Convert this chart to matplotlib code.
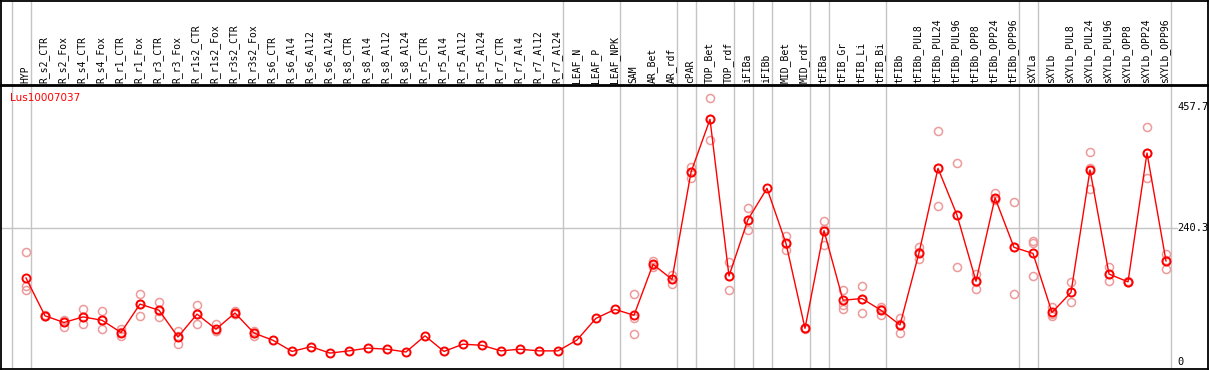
import numpy as np
import matplotlib
matplotlib.use("Agg")
import matplotlib.pyplot as plt

nan = np.nan

gene = "Lus10007037"

samples = ["HYP", "R_s2_CTR", "R_s2_Fox", "R_s4_CTR", "R_s4_Fox", "R_r1_CTR", "R_r1_Fox",
	"R_r3_CTR", "R_r3_Fox", "R_r1s2_CTR", "R_r1s2_Fox", "R_r3s2_CTR", "R_r3s2_Fox",
	"R_s6_CTR", "R_s6_Al4", "R_s6_Al12", "R_s6_Al24", "R_s8_CTR", "R_s8_Al4", "R_s8_Al12",
	"R_s8_Al24", "R_r5_CTR", "R_r5_Al4", "R_r5_Al12", "R_r5_Al24", "R_r7_CTR", "R_r7_Al4",
	"R_r7_Al12", "R_r7_Al24", "LEAF_N", "LEAF_P", "LEAF_NPK", "SAM", "AR_Bet", "AR_rdf",
	"cPAR", "TOP_Bet", "TOP_rdf", "iFIBa", "iFIBb", "MID_Bet", "MID_rdf", "tFIBa",
	"tFIB_Gr", "tFIB_Li", "tFIB_Bi", "tFIBb", "tFIBb_PUL8", "tFIBb_PUL24", "tFIBb_PUL96",
	"tFIBb_OPP8", "tFIBb_OPP24", "tFIBb_OPP96", "sXYLa", "sXYLb", "sXYLb_PUL8",
	"sXYLb_PUL24", "sXYLb_PUL96", "sXYLb_OPP8", "sXYLb_OPP24", "sXYLb_OPP96"]

# number of samples in each tissue block (grey separators)
group_sizes = [1, 28, 3, 3, 1, 2, 1, 1, 2, 1, 3, 7, 1, 7]

mean_expr = [151, 83, 71, 81, 75, 53, 104, 93, 45, 86, 59, 88, 52,
	39, 19, 27.5, 16, 20, 25, 23, 18, 47, 19, 32, 30, 20, 23, 20, 20,
	39.5, 78.5, 94.5, 84, 175.5, 148.5, 341, 436, 154.5, 256, 312, 213, 60.5,
	236, 111, 114, 93, 66.5, 196, 348, 264, 145, 295, 206, 195,
	89, 125, 345, 158, 144, 375.5, 181.5]

rep1 = [197, 84, 75, 96, 92, 59, 123, 108, 56, 102, 68, 92, 56,
	nan, nan, nan, nan, nan, nan, nan, nan, nan, nan, nan, nan, nan, nan, nan, nan,
	nan, nan, nan, 122, 181.5, 156, 351, 474, 180, 276, nan, 226, 61,
	253, 129, 136.5, 99, 78.5, 206, 414.5, 357, 159, 303, 287.5, 217,
	99, 144, 377, 170, 145, 422, 194]

rep2 = [137, 82, 63, 68, 59, 47, 83, 80, 33, 69, 56, 86, 47,
	nan, nan, nan, nan, nan, nan, nan, nan, nan, nan, nan, nan, nan, nan, nan, nan,
	nan, nan, nan, 50, 171, 140, 331, 398, 129, 237, nan, 202, 60,
	211, 96, 88.5, 84, 53, 184.5, 280, 171, 132, 291, 123, 155,
	82, 107, 310, 145, 143, 330, 166.5]

rep3 = [129, 83, 72, 80, 76, 54, 104, 92, 46, 86, 55, 86, 52,
	nan, nan, nan, nan, nan, nan, nan, nan, nan, nan, nan, nan, nan, nan, nan, nan,
	nan, nan, nan, 79, 174, 150, 341, 436, 155, 256, nan, 212, 60.5,
	239, 102, 114, 95, 68, 197, 349, 264, 144, 292, 207, 213,
	87, 125, 348, 159, 144, 375, 184]

yticks = [0, 240.3, 457.7]

W, H = 1209, 370
fig = plt.figure(figsize=(W / 100, H / 100), dpi=100)
fig.patch.set_facecolor("white")

# pixel layout of the original: category i sits at x = 26 + 19*i, value 0 at y = 362
x0, dx = 26.0, 19.0
y0, dy = 362.0, 0.5566
xlim = ((1 - x0) / dx, (1208 - x0) / dx)

ax = fig.add_axes([1 / W, 1 / H, 1207 / W, 283 / H])
hax = fig.add_axes([1 / W, 285 / H, 1207 / W, 84 / H], sharex=ax)

x = np.arange(len(samples))
ax.set_xlim(*xlim)
ax.set_ylim((y0 - 369) / dy, (y0 - 86) / dy)
hax.set_ylim(0, 1)

for a in (ax, hax):
	a.set_xticks([])
	a.set_yticks([])
	for s in a.spines.values():
		s.set_color("black")
		s.set_linewidth(1.3)

# block separators, through header and plot
ends = np.cumsum([0] + group_sizes) - 1
for e in ends:
	for a in (ax, hax):
		a.axvline(e + 0.24, color="#c4c4c4", lw=1, zorder=0)

# horizontal gridline at the middle tick
gx_end = (1177 - x0) / dx
ax.plot([xlim[0], gx_end], [yticks[1], yticks[1]], color="#c4c4c4", lw=1, zorder=0)

# replicates
for r in (rep1, rep2, rep3):
	ax.plot(x, r, ls="none", marker="o", ms=5.8, mfc="none", mec="#ee9a9a", mew=1.1, zorder=2)

# mean line
ax.plot(x, mean_expr, color="red", lw=1, marker="o", ms=5.8, mfc="none", mec="red", mew=1.4, zorder=3)

# y values on the right
for v in yticks:
	ax.text((1177 - x0) / dx, v, "%g" % v, ha="left", va="center", fontsize=7.5,
		family="DejaVu Sans Mono", color="black")

ax.text((10 - x0) / dx, (y0 - 98) / dy, gene, color="red", fontsize=7.5, va="center", ha="left")

# sample names in the header
for i, name in enumerate(samples):
	hax.text(i - 0.05, 0.025, name, rotation=90, ha="center", va="bottom", fontsize=7,
		family="DejaVu Sans Mono", color="black")

fig.savefig("out.png", dpi=100)
